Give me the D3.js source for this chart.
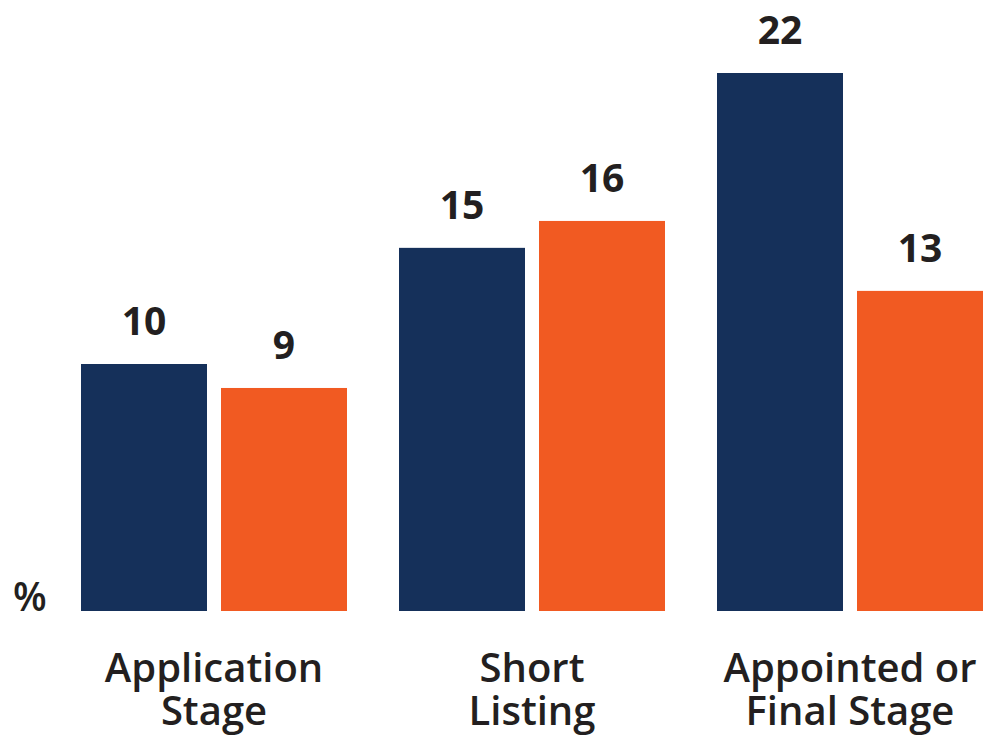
<!DOCTYPE html>
<meta charset="utf-8">
<head>
<style>
  body { margin: 0; background: #fff; }
  svg text { font-family: "Open Sans", sans-serif; fill: #231f20; }
</style>
</head>
<script src="https://cdn.jsdelivr.net/npm/d3@7"></script>
<div id="chart"></div>
<script>
// data
var stages = [["Application", "Stage"], ["Short", "Listing"], ["Appointed or", "Final Stage"]];
var series = ["a", "b"];
var seriesA = [10.1, 14.85, 22.0];
var seriesB = [9.12, 15.95, 13.09];
var colors = ["#15305a", "#f15a22"];

var W = 983, H = 735;
var baseline = 611;

var svg = d3.select("#chart").append("svg")
  .attr("width", W)
  .attr("height", H);

var groupKeys = stages.map(function(d) { return d.join(" "); });

var x0 = d3.scaleBand()
  .domain(groupKeys)
  .range([81, 983])
  .paddingInner(52 / 318)
  .paddingOuter(0);

var x1 = d3.scaleBand()
  .domain(series)
  .range([0, x0.bandwidth()])
  .paddingInner(0.1);

var y = d3.scaleLinear()
  .domain([0, 22])
  .range([baseline, 73]);

var color = d3.scaleOrdinal().domain(series).range(colors);

var rows = groupKeys.map(function(k, i) {
  return { key: k, values: [ { s: "a", v: seriesA[i] }, { s: "b", v: seriesB[i] } ] };
});

var fmt = d3.format(".0f");

var g = svg.selectAll("g.grp")
  .data(rows)
  .enter().append("g")
    .attr("class", "grp")
    .attr("transform", function(d) { return "translate(" + x0(d.key) + ",0)"; });

g.selectAll("rect")
  .data(function(d) { return d.values; })
  .enter().append("rect")
    .attr("x", function(d) { return x1(d.s); })
    .attr("y", function(d) { return y(d.v); })
    .attr("width", x1.bandwidth())
    .attr("height", function(d) { return baseline - y(d.v); })
    .attr("fill", function(d) { return color(d.s); });

// value labels
g.selectAll("text.val")
  .data(function(d) { return d.values; })
  .enter().append("text")
    .attr("class", "val")
    .attr("x", function(d) { return x1(d.s) + x1.bandwidth() / 2; })
    .attr("y", function(d) { return y(d.v) - 29; })
    .attr("text-anchor", "middle")
    .style("font-size", "39px")
    .style("font-weight", 700)
    .text(function(d) { return fmt(d.v); });

// category labels, one text per line
stages.forEach(function(lines, i) {
  var cx = x0(groupKeys[i]) + x0.bandwidth() / 2;
  svg.selectAll(null)
    .data(lines)
    .enter().append("text")
      .attr("class", "cat")
      .attr("x", cx)
      .attr("y", function(d, j) { return 682 + j * 43; })
      .attr("text-anchor", "middle")
      .style("font-size", "40px")
      .style("font-weight", 600)
      .text(function(d) { return d; });
});

// unit label
svg.append("text")
  .attr("x", 13)
  .attr("y", baseline)
  .style("font-size", "39px")
  .style("font-weight", 600)
  .text("%");
</script>
